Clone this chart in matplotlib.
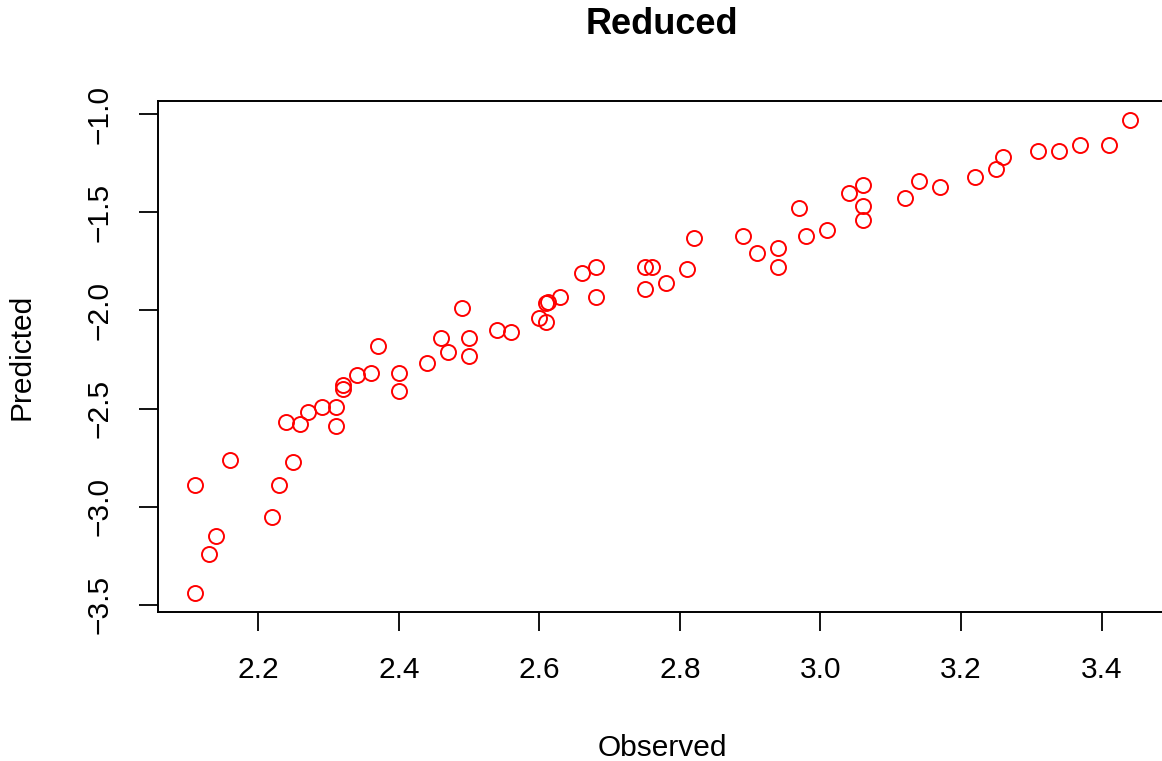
import numpy as np
import matplotlib.pyplot as plt

plt.rcParams['font.family'] = ['Liberation Sans', 'DejaVu Sans']

# observed vs predicted values
observed = [2.11, 2.11, 2.13, 2.14, 2.16, 2.22, 2.23, 2.24, 2.25, 2.26,
            2.27, 2.29, 2.31, 2.31, 2.32, 2.32, 2.34, 2.36, 2.37, 2.40,
            2.40, 2.44, 2.46, 2.47, 2.49, 2.50, 2.50, 2.54, 2.56, 2.60,
            2.61, 2.61, 2.612, 2.63, 2.66, 2.68, 2.68, 2.75, 2.76, 2.75,
            2.78, 2.81, 2.82, 2.89, 2.91, 2.94, 2.94, 2.97, 2.98, 3.01,
            3.04, 3.06, 3.06, 3.06, 3.12, 3.14, 3.17, 3.22, 3.25, 3.26,
            3.31, 3.34, 3.37, 3.41, 3.44]
predicted = [-3.44, -2.89, -3.24, -3.15, -2.76, -3.05, -2.89, -2.57, -2.77, -2.58,
             -2.52, -2.49, -2.49, -2.59, -2.38, -2.40, -2.33, -2.32, -2.18, -2.32,
             -2.41, -2.27, -2.14, -2.21, -1.99, -2.14, -2.23, -2.10, -2.11, -2.04,
             -2.06, -1.96, -1.955, -1.93, -1.81, -1.78, -1.93, -1.78, -1.78, -1.89,
             -1.86, -1.79, -1.63, -1.62, -1.71, -1.68, -1.78, -1.48, -1.62, -1.59,
             -1.40, -1.36, -1.47, -1.54, -1.43, -1.34, -1.37, -1.32, -1.28, -1.22,
             -1.19, -1.19, -1.16, -1.16, -1.03]

xticks = [2.2, 2.4, 2.6, 2.8, 3.0, 3.2, 3.4]
yticks = [-3.5, -3.0, -2.5, -2.0, -1.5, -1.0]

fig = plt.figure(figsize=(11.62, 7.61), dpi=100)
# plot region runs slightly past the right edge of the image, as in the reference
ax = fig.add_axes([157.7/1162, 1 - 612/761, 1009.3/1162, 511/761])

ax.plot(observed, predicted, 'o', linestyle='none', markerfacecolor='none',
        markeredgecolor='red', markersize=10.8, markeredgewidth=1.4)

# R-style 4% padding around the data range
xr = max(observed) - min(observed)
yr = max(predicted) - min(predicted)
ax.set_xlim(min(observed) - 0.04 * xr, max(observed) + 0.04 * xr)
ax.set_ylim(min(predicted) - 0.04 * yr, max(predicted) + 0.04 * yr)
ax.set_xticks(xticks)
ax.set_xticklabels([f'{v:.1f}' for v in xticks])
ax.set_yticks(yticks)
ax.set_yticklabels([f'{v:.1f}'.replace('-', '\u2212') for v in yticks],
                   rotation=90, va='center')

ax.tick_params(direction='out', length=14, width=1.3, pad=18, labelsize=21.5)
for s in ax.spines.values():
    s.set_linewidth(1.4)

ax.set_xlabel('Observed', fontsize=21.5)
ax.xaxis.set_label_coords(0.5, -0.266)
ax.xaxis.label.set_va('center')
ax.set_ylabel('Predicted', fontsize=21.5)
ax.yaxis.set_label_coords(-0.1345, 0.5)
ax.yaxis.label.set_va('center')

ax.text(0.5, 1.149, 'Reduced', transform=ax.transAxes, ha='center', va='center',
        fontsize=26, fontweight='bold')

fig.savefig('out.png', dpi=100)
